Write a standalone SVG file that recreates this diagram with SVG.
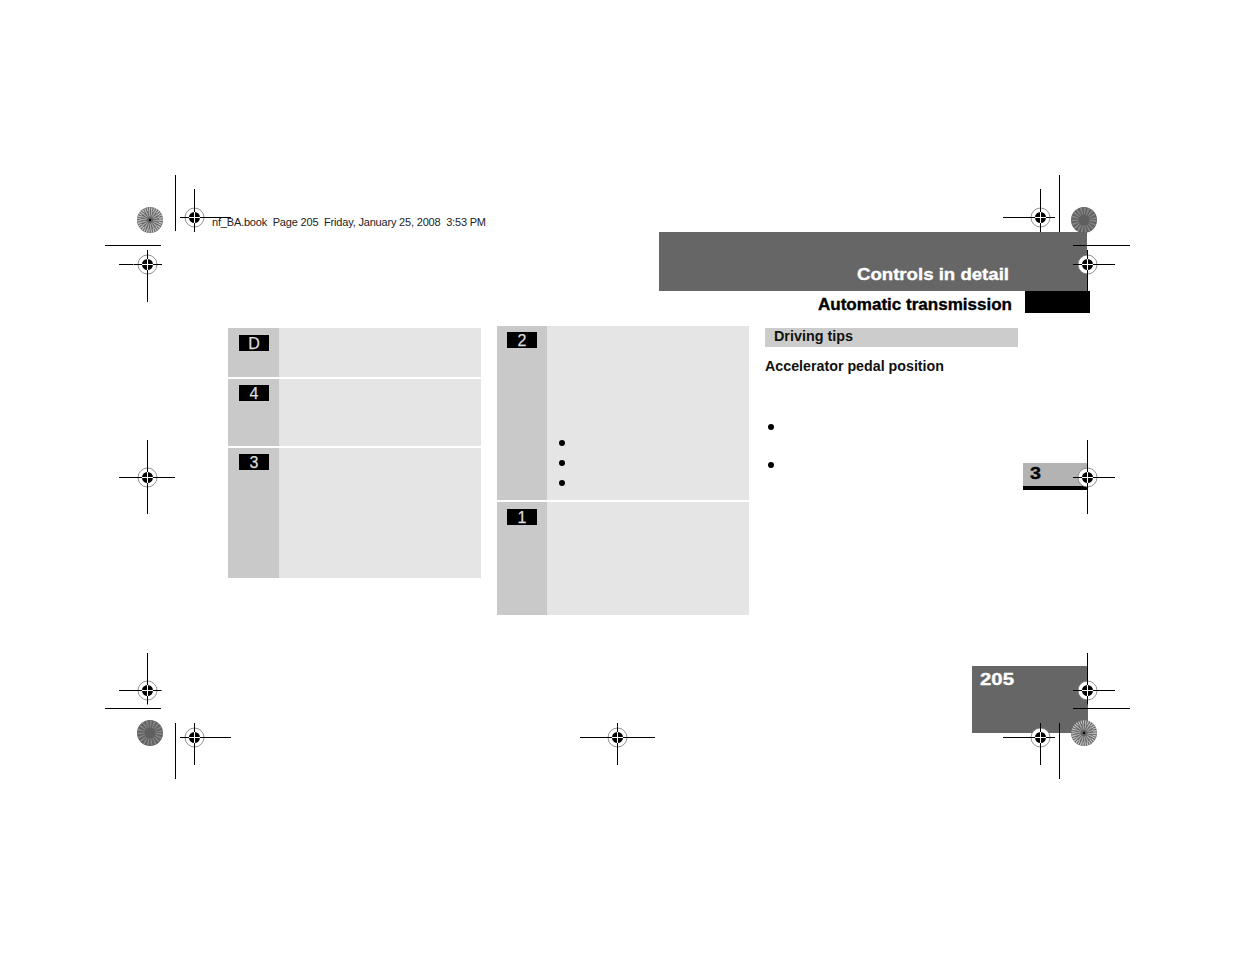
<svg xmlns="http://www.w3.org/2000/svg" width="1235" height="954" viewBox="0 0 1235 954">
<style>
.l{stroke:#000;stroke-width:1;fill:none}
.side{fill:#c9c9c9}.body{fill:#e5e5e5}.bdg{fill:#000}
.bt{font-family:"Liberation Sans",Arial,sans-serif;font-size:16px;fill:#dcdcdc;stroke:#dcdcdc;stroke-width:.25;text-anchor:middle}
.h{font-family:"Liberation Sans",Arial,sans-serif;font-weight:700;stroke-width:.35}
.dot{fill:#000}
</style>
<defs>
<g id="reg">
<circle r="9.500" fill="#fff" stroke="#777" stroke-width="0.800"/>
<path d="M-14 0H14M0-14V14" stroke="#000" stroke-width="1"/>
<circle r="5.500" fill="#000"/>
<path d="M-5.500 0H5.500M0-5.500V5.500" stroke="#fff" stroke-width="1"/>
</g>
<g id="spokeA">
<circle r="13" fill="#666"/>
<circle r="11" fill="none" stroke="#d0d0d0" stroke-width="3.500" stroke-dasharray="1 1.200"/>
<circle r="6.500" fill="none" stroke="#b0b0b0" stroke-width="6" stroke-dasharray="1 1.200"/>
<circle r="1.200" fill="#000"/>
</g>
<g id="spokeB">
<circle r="13" fill="#5f5f5f"/>
<circle r="9" fill="none" stroke="#858585" stroke-width="7" stroke-dasharray="1.500 1.500"/>
</g>
</defs>
<rect id="header-band" x="659" y="232" width="428" height="59" fill="#666"/>
<rect id="header-tab" x="1025" y="291" width="65" height="22" fill="#000"/>
<rect id="page-band" x="972" y="666" width="116" height="67" fill="#666"/>
<rect id="chapter-tab" x="1023" y="463" width="64" height="23" fill="#b3b3b3"/>
<rect id="chapter-rule" x="1023" y="486" width="64" height="4" fill="#000"/>
<g id="marks">
<use href="#reg" x="194.500" y="217.500"/><use href="#reg" x="147.500" y="264.500"/>
<use href="#reg" x="1040.500" y="217.500"/><use href="#reg" x="1087.500" y="264.500"/>
<use href="#reg" x="147.500" y="690.500"/><use href="#reg" x="194.500" y="737.500"/>
<use href="#reg" x="1087.500" y="690.500"/><use href="#reg" x="1040.500" y="737.500"/>
<use href="#reg" x="617.500" y="737.500"/><use href="#reg" x="147.500" y="477.500"/><use href="#reg" x="1087.500" y="477.500"/>
<path class="l" d="M175.500 175V231M105 245.500H161M119 264.500H133M162 264.500H161M147.500 250V255M147.500 274V302M180 217.500H185M204 217.500H231M194.500 189V208M194.500 227V232"/>
<path class="l" d="M1059.500 175V232M1073 245.500H1130M1073 264.500H1078M1097 264.500H1115M1087.500 250V255M1087.500 274V292M1003 217.500H1031M1050 217.500H1055M1040.500 189V208M1040.500 227V232"/>
<path class="l" d="M119 690.500H138M157 690.500H161M147.500 653V681M147.500 700V704M105 708.500H161M175.500 723V779M180 737.500H185M204 737.500H231M194.500 723V728M194.500 747V765"/>
<path class="l" d="M1073 690.500H1078M1097 690.500H1115M1087.500 653V681M1087.500 700V704M1073 708.500H1130M1059.500 723V779M1003 737.500H1031M1050 737.500H1055M1040.500 723V728M1040.500 747V765"/>
<path class="l" d="M580 737.500H608M627 737.500H655M617.500 723V728M617.500 747V765M119 477.500H138M157 477.500H175M147.500 440V468M147.500 487V514M1073 477.500H1078M1097 477.500H1115M1087.500 440V468M1087.500 487V514"/>
<use href="#spokeA" x="150" y="220"/><use href="#spokeB" x="1084" y="220"/>
<use href="#spokeB" x="150" y="733"/><use href="#spokeA" x="1084" y="733"/>
</g>
<text id="slug" x="212" y="226" font-family="Liberation Sans,Arial,sans-serif" font-size="11" fill="#222" textLength="274" lengthAdjust="spacing" xml:space="preserve">nf_BA.book  Page 205  Friday, January 25, 2008  3:53 PM</text>
<text id="t-controls" class="h" x="857" y="280" font-size="17" fill="#fff" stroke="#fff" textLength="152" lengthAdjust="spacingAndGlyphs">Controls in detail</text>
<text id="t-auto" class="h" x="818" y="310" font-size="17" fill="#000" stroke="#000" textLength="194" lengthAdjust="spacingAndGlyphs">Automatic transmission</text>
<text id="t-page" class="h" x="980" y="685" font-size="17" fill="#fff" stroke="#fff" textLength="34" lengthAdjust="spacingAndGlyphs">205</text>
<text id="t-ch" class="h" x="1030" y="479" font-size="17" fill="#000" stroke="#000" textLength="11" lengthAdjust="spacingAndGlyphs">3</text>
<g id="row-D"><rect class="side" x="228" y="328" width="51" height="49"/><rect class="body" x="279" y="328" width="202" height="49"/><rect class="bdg" x="239" y="335" width="30" height="16"/><text class="bt" x="254" y="348.500">D</text></g>
<g id="row-4"><rect class="side" x="228" y="379" width="51" height="67"/><rect class="body" x="279" y="379" width="202" height="67"/><rect class="bdg" x="239" y="385" width="30" height="16"/><text class="bt" x="254" y="398.500">4</text></g>
<g id="row-3"><rect class="side" x="228" y="448" width="51" height="130"/><rect class="body" x="279" y="448" width="202" height="130"/><rect class="bdg" x="239" y="454" width="30" height="16"/><text class="bt" x="254" y="467.500">3</text></g>
<g id="row-2"><rect class="side" x="497" y="326" width="50" height="174"/><rect class="body" x="547" y="326" width="202" height="174"/><rect class="bdg" x="507" y="332" width="30" height="16"/><text class="bt" x="522" y="345.500">2</text>
<circle class="dot" cx="562" cy="443" r="3"/><circle class="dot" cx="562" cy="463" r="3"/><circle class="dot" cx="562" cy="483" r="3"/></g>
<g id="row-1"><rect class="side" x="497" y="502" width="50" height="113"/><rect class="body" x="547" y="502" width="202" height="113"/><rect class="bdg" x="507" y="509" width="30" height="16"/><text class="bt" x="522" y="522.500">1</text></g>
<g id="section"><rect x="765" y="328" width="253" height="19" fill="#ccc"/><text class="h" x="774" y="341" font-size="14" fill="#111" textLength="79" lengthAdjust="spacingAndGlyphs">Driving tips</text></g>
<text id="t-accel" class="h" x="765" y="371" font-size="14" fill="#111" textLength="179" lengthAdjust="spacingAndGlyphs">Accelerator pedal position</text>
<circle class="dot" cx="771" cy="427" r="3"/><circle class="dot" cx="771" cy="465" r="3"/>
</svg>
